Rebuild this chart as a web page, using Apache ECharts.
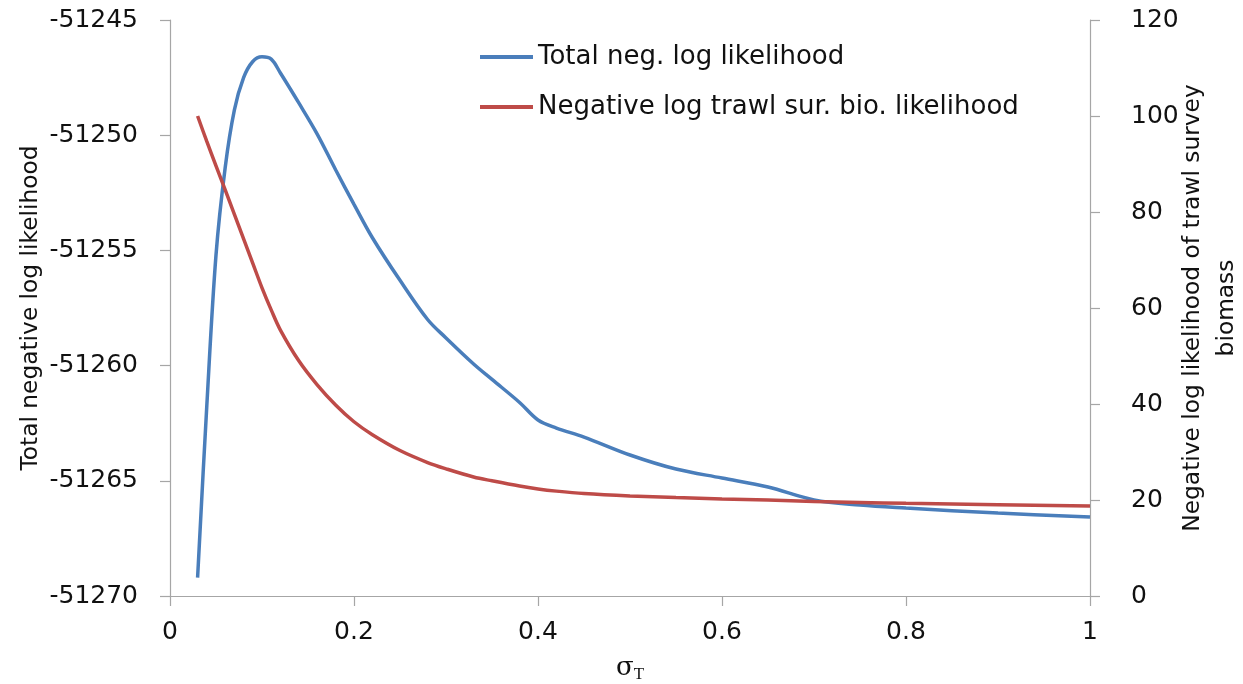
<!DOCTYPE html>
<html>
<head>
<meta charset="utf-8">
<style>
  html, body { margin: 0; padding: 0; background: #fff; }
  #chart { width: 1243px; height: 684px; }
</style>
<script src="https://cdn.jsdelivr.net/npm/echarts@6/dist/echarts.min.js"></script>
</head>
<body>
<div id="chart"></div>
<script>
// Process error parameter sigma_T
const sigma = [0.03, 0.04, 0.05, 0.06, 0.07, 0.08, 0.09, 0.10, 0.11, 0.12, 0.14, 0.16, 0.18, 0.20,
  0.22, 0.25, 0.28, 0.30, 0.33, 0.35, 0.38, 0.40, 0.42, 0.45, 0.50, 0.55, 0.60, 0.65, 0.70,
  0.75, 0.80, 0.90, 1.00];

// Total negative log likelihood (left axis)
const totalNll = [-51269.2, -51261.75, -51255.2, -51251.4, -51248.9, -51247.5, -51246.8, -51246.6,
  -51246.7, -51247.3, -51248.6, -51249.95, -51251.5, -51253.0, -51254.45, -51256.3, -51258.0,
  -51258.8, -51259.93, -51260.6, -51261.6, -51262.36, -51262.71, -51263.1, -51263.88,
  -51264.49, -51264.88, -51265.27, -51265.83, -51266.05, -51266.18, -51266.4, -51266.57];

// Negative log likelihood of trawl survey biomass (right axis)
const trawlNll = [100, 94.7, 89.6, 84.6, 79.5, 74.4, 69.3, 64.2, 59.6, 55.4, 49.0, 44.0, 39.8, 36.3,
  33.6, 30.3, 27.8, 26.5, 24.8, 24.0, 22.9, 22.3, 21.85, 21.35, 20.85, 20.5, 20.2, 20.0, 19.7,
  19.5, 19.3, 19.0, 18.75];

const seriesNames = ['Total neg. log likelihood', 'Negative log trawl sur. bio. likelihood'];
const leftTicks = { min: -51270, max: -51245, step: 5 };
const rightTicks = { min: 0, max: 120, step: 20 };
const xTicks = { min: 0, max: 1, step: 0.2 };

const FONT = '"DejaVu Sans", "Noto Sans", sans-serif';
const AXIS_GRAY = '#a6a6a6';
const TEXT = '#111';

const pairs = (xs, ys) => xs.map((x, i) => [x, ys[i]]);

const chart = echarts.init(document.getElementById('chart'), null, { renderer: 'canvas' });

const axisCommon = {
  axisLine: { show: true, lineStyle: { color: AXIS_GRAY, width: 1.2 } },
  axisTick: { show: true, length: 10, lineStyle: { color: AXIS_GRAY, width: 1.2 } },
  splitLine: { show: false },
  axisLabel: { color: TEXT, fontFamily: FONT, fontSize: 25, margin: 32 },
  nameMoveOverlap: false
};

chart.setOption({
  backgroundColor: '#fff',
  animation: false,
  grid: { left: 170, right: 153, top: 20, bottom: 88, containLabel: false, outerBoundsMode: 'none' },
  legend: {
    data: seriesNames,
    orient: 'vertical',
    left: 480,
    top: 44,
    padding: 0,
    itemWidth: 53,
    itemHeight: 4,
    itemGap: 24,
    icon: 'rect',
    textStyle: { fontFamily: FONT, fontSize: 26, color: TEXT }
  },
  xAxis: Object.assign({}, axisCommon, {
    type: 'value',
    min: xTicks.min,
    max: xTicks.max,
    interval: xTicks.step,
    axisLabel: Object.assign({}, axisCommon.axisLabel, {
      margin: 24,
      formatter: v => String(Math.round(v * 10) / 10)
    }),
    name: '{s|σ}{t|T}',
    nameLocation: 'middle',
    nameGap: 58,
    nameTextStyle: {
      rich: {
        s: { fontFamily: '"DejaVu Serif", "Liberation Serif", serif', fontSize: 26, color: TEXT },
        t: { fontFamily: '"Liberation Serif", serif', fontSize: 17, color: TEXT, padding: [12, 0, 0, 0] }
      }
    }
  }),
  yAxis: [
    Object.assign({}, axisCommon, {
      type: 'value',
      position: 'left',
      min: leftTicks.min,
      max: leftTicks.max,
      interval: leftTicks.step,
      axisLabel: Object.assign({}, axisCommon.axisLabel, { formatter: v => String(v) }),
      name: 'Total negative log likelihood',
      nameLocation: 'middle',
      nameGap: 128,
      nameTextStyle: { fontFamily: FONT, fontSize: 23.3, color: TEXT }
    }),
    Object.assign({}, axisCommon, {
      type: 'value',
      position: 'right',
      min: rightTicks.min,
      max: rightTicks.max,
      interval: rightTicks.step,
      axisLabel: Object.assign({}, axisCommon.axisLabel, { margin: 41 }),
      name: 'Negative log likelihood of trawl survey\nbiomass',
      nameLocation: 'middle',
      nameRotate: 90,
      nameGap: 86,
      nameTextStyle: { fontFamily: FONT, fontSize: 23.3, color: TEXT, lineHeight: 34, align: 'center' }
    })
  ],
  series: [
    {
      name: seriesNames[0],
      type: 'line',
      yAxisIndex: 0,
      data: pairs(sigma, totalNll),
      smooth: 0.35,
      showSymbol: false,
      symbol: 'none',
      lineStyle: { color: '#4a7ebb', width: 3.5 },
      itemStyle: { color: '#4a7ebb' }
    },
    {
      name: seriesNames[1],
      type: 'line',
      yAxisIndex: 1,
      data: pairs(sigma, trawlNll),
      smooth: 0.35,
      showSymbol: false,
      symbol: 'none',
      lineStyle: { color: '#be4b48', width: 3.5 },
      itemStyle: { color: '#be4b48' }
    }
  ]
});
</script>
</body>
</html>
